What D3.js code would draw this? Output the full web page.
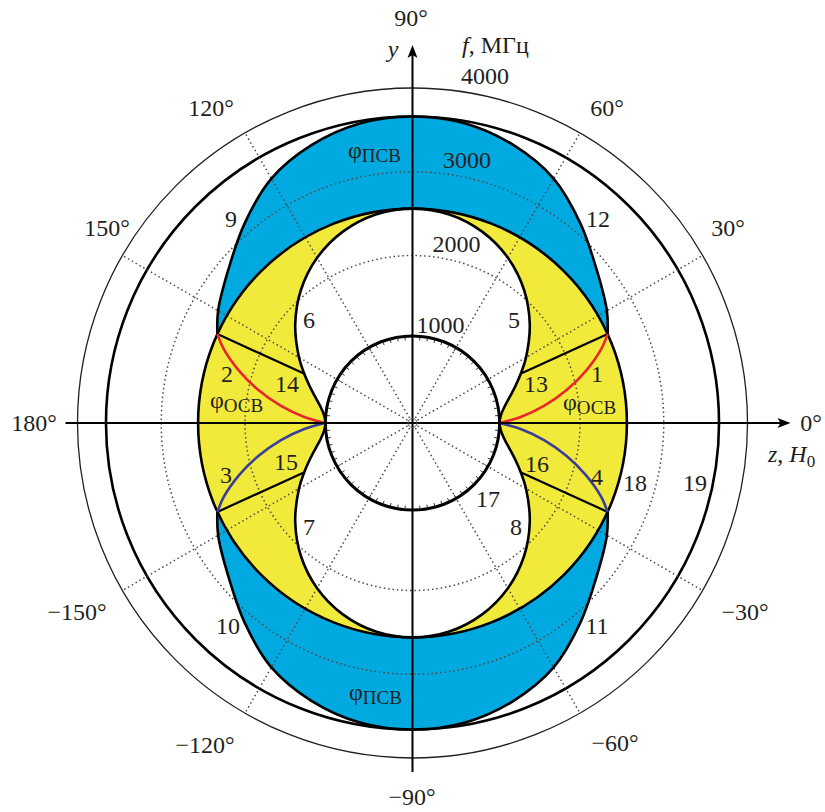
<!DOCTYPE html>
<html>
<head>
<meta charset="utf-8">
<script src="https://cdn.jsdelivr.net/npm/d3@7/dist/d3.min.js"></script>
<style>
  body { margin: 0; background: #fff; }
  svg { display: block; }
</style>
</head>
<body>
<svg id="chart" width="825" height="812"></svg>
<script>
// angles in degrees from the z axis, frequencies in MHz; first quadrant only, the rest is mirrored
const lobeAngles = [0, 5, 10, 15, 20, 25, 30, 40, 50, 60, 70, 80, 90];
const lobeFreq = [1040, 1059, 1115, 1202, 1311, 1434, 1565, 1828, 2073, 2278, 2432, 2529, 2560];

const psvAngles = [24.5, 30, 40, 50, 60, 70, 80, 90];
const psvFreq = [2560, 2680, 2866, 3116, 3370, 3530, 3631, 3660];

const osvAngles = [0, 3.1, 7.5, 12.1, 16.7, 21.4, 24.5];
const osvFreq = [1040, 1286, 1589, 1882, 2159, 2420, 2560];

const cutoffAngle = 24.5;
const cutoffFreq = [1425, 2560];

const innerFreq = 1040;     // curve 17
const circle18Freq = 2560;
const circle19Freq = 3660;
const outerFreq = 4000;
const gridFreq = [2000, 3000];
const gridAngles = [30, 60, 120, 150, 210, 240, 300, 330];
const freqTicks = ["1000", "2000", "3000", "4000"];
const angleLabels = ["90°", "60°", "30°", "0°", "−30°", "−60°", "−90°", "−120°", "−150°", "180°", "150°", "120°"];
const curveNumbers = ["1", "2", "3", "4", "5", "6", "7", "8", "9", "10",
                      "11", "12", "13", "14", "15", "16", "17", "18", "19"];

// layout
const cx = 412.5, cy = 423;
const r = d3.scaleLinear().domain([0, 4000]).range([0, 335]);
const toRad = d => d * Math.PI / 180;
const FONT = "'Liberation Serif', 'Times New Roman', Tinos, 'DejaVu Serif', serif";

const svg = d3.select("#chart");
const plot = svg.append("g").attr("transform", `translate(${cx},${cy})`);
const labels = svg.append("g")
    .attr("font-family", FONT)
    .style("font-family", FONT)
    .attr("font-size", 24)
    .attr("fill", "#231f20");

const radial = curve => d3.lineRadial()
    .angle(d => Math.PI / 2 - toRad(d[0]))
    .radius(d => r(d[1]))
    .curve(curve);
const smooth = radial(d3.curveCatmullRom.alpha(0.5));
const smoothClosed = radial(d3.curveCatmullRomClosed.alpha(0.5));
const straight = radial(d3.curveLinear);

const pairs = (angles, freqs) => angles.map((a, i) => [a, freqs[i]]);
const flipV = pts => pts.map(([a, f]) => [180 - a, f]);   // mirror across the y axis
const flipH = pts => pts.map(([a, f]) => [-a, f]);        // mirror across the z axis

const lobe = pairs(lobeAngles, lobeFreq);
const psv = pairs(psvAngles, psvFreq);
const osv = pairs(osvAngles, osvFreq);

const lobeLoop = [
    ...lobe,
    ...flipV(lobe).reverse().slice(1),
    ...flipH(flipV(lobe)).slice(1),
    ...flipH(lobe).reverse().slice(1, -1)
];
const psvTop = [...psv, ...flipV(psv).reverse().slice(1)];
const psvBottom = flipH(psvTop);

const BLUE = "#00a9df", YELLOW = "#f2ea3b", RED = "#e8262b", NAVY = "#3b3f98";

// outer reference circles
plot.append("circle").attr("r", r(outerFreq))
    .attr("fill", "none").attr("stroke", "#231f20").attr("stroke-width", 1.3);
plot.append("circle").attr("r", r(circle19Freq))
    .attr("fill", "none").attr("stroke", "#000").attr("stroke-width", 2.6);

// fills
[psvTop, psvBottom].forEach(pts => {
    plot.append("path").attr("d", smooth(pts) + "Z").attr("fill", BLUE);
});
plot.append("circle").attr("r", r(circle18Freq)).attr("fill", YELLOW);
plot.append("path").attr("d", smoothClosed(lobeLoop)).attr("fill", "#fff");

// dotted grid
const dotted = sel => sel.attr("fill", "none").attr("stroke", "#4a4a4a")
    .attr("stroke-width", 1.5).attr("stroke-dasharray", "1.5 2.9");
gridFreq.forEach(f => plot.append("circle").attr("r", r(f)).call(dotted));
gridAngles.forEach(a => plot.append("path").attr("d", straight([[a, 70], [a, outerFreq]])).call(dotted));

// black curves
const black = (sel, w) => sel.attr("fill", "none").attr("stroke", "#000").attr("stroke-width", w)
    .attr("stroke-linejoin", "round");
[psvTop, psvBottom].forEach(pts => plot.append("path").attr("d", smooth(pts)).call(black, 2.6));
plot.append("circle").attr("r", r(circle18Freq)).call(black, 2.6);
plot.append("path").attr("d", smoothClosed(lobeLoop)).call(black, 2.6);

// cutoff lines 13-16
[cutoffAngle, 180 - cutoffAngle, -cutoffAngle, cutoffAngle - 180].forEach(a => {
    plot.append("path").attr("d", straight(cutoffFreq.map(f => [a, f]))).call(black, 2.2);
});

// osv boundaries: red above, navy below
[osv, flipV(osv)].forEach(pts => plot.append("path").attr("d", smooth(pts))
    .attr("fill", "none").attr("stroke", RED).attr("stroke-width", 2.6));
[flipH(osv), flipH(flipV(osv))].forEach(pts => plot.append("path").attr("d", smooth(pts))
    .attr("fill", "none").attr("stroke", NAVY).attr("stroke-width", 2.6));

// inner circle 17 with protractor ticks
plot.append("circle").attr("r", r(innerFreq)).attr("fill", "none").call(black, 3);
plot.selectAll(".tick17").data(d3.range(0, 360, 5)).join("path")
    .attr("class", "tick17")
    .attr("d", a => straight([[a, innerFreq - 15], [a, innerFreq - 50]]))
    .attr("stroke", "#333").attr("stroke-width", 1);

// axes with arrows
const axisEnd = { left: 347, right: 378, top: 378, bottom: 349 };
plot.append("line").attr("x1", -axisEnd.left).attr("x2", axisEnd.right - 6)
    .attr("stroke", "#000").attr("stroke-width", 2);
plot.append("line").attr("y1", axisEnd.bottom).attr("y2", -axisEnd.top + 6)
    .attr("stroke", "#000").attr("stroke-width", 2);
const arrow = "M0,0 L-13,-5 L-10,0 L-13,5 Z";
plot.append("path").attr("d", arrow).attr("transform", `translate(${axisEnd.right},0)`).attr("fill", "#000");
plot.append("path").attr("d", arrow).attr("transform", `translate(0,${-axisEnd.top}) rotate(-90)`).attr("fill", "#000");

// centre mark
plot.append("circle").attr("r", 4.5).attr("fill", "none").attr("stroke", "#555").attr("stroke-width", 1);

// frequency labels
const freqLabelDx = [4, 20, 30.5, 48.5];
freqTicks.forEach((t, i) => {
    const rr = i === 0 ? r(innerFreq) + 3 : r(+t) + 4;
    labels.append("text").attr("x", cx + freqLabelDx[i]).attr("y", cy - rr).text(t);
});

// angle labels
const anglePos = [[411, 26], [607, 116], [728, 236], [811, 431], [745, 620], [615, 751],
                  [412, 805], [205, 753], [77, 620], [34, 431], [107, 236], [211, 116]];
angleLabels.forEach((t, i) => {
    labels.append("text").attr("x", anglePos[i][0]).attr("y", anglePos[i][1])
        .attr("text-anchor", "middle").text(t);
});

// curve numbers
const numberPos = [[597, 382], [227, 382], [226, 483], [597, 485], [514, 328], [309, 328],
                   [309, 535], [516, 535], [231, 227], [228, 634], [597, 634], [598, 227],
                   [536, 392], [287, 392], [286, 470], [537, 472], [488, 507], [635, 491], [695, 491]];
curveNumbers.forEach((t, i) => {
    labels.append("text").attr("x", numberPos[i][0]).attr("y", numberPos[i][1])
        .attr("text-anchor", "middle").text(t);
});

// phi labels
function phiLabel(x, y, sub) {
    const t = labels.append("text").attr("x", x).attr("y", y);
    t.append("tspan").text("φ");
    t.append("tspan").attr("font-size", 19).attr("dy", 3.5).text(sub);
}
phiLabel(348, 158, "ПСВ");
phiLabel(349, 700, "ПСВ");
phiLabel(210, 408, "ОСВ");
phiLabel(563, 410, "ОСВ");

// axis titles
labels.append("text").attr("x", 393).attr("y", 57).attr("text-anchor", "middle")
    .attr("font-style", "italic").text("y");
const fTitle = labels.append("text").attr("x", 462).attr("y", 53);
fTitle.append("tspan").attr("font-style", "italic").text("f");
fTitle.append("tspan").text(", МГц");
const zTitle = labels.append("text").attr("x", 768).attr("y", 462);
zTitle.append("tspan").attr("font-style", "italic").text("z");
zTitle.append("tspan").text(", ");
zTitle.append("tspan").attr("font-style", "italic").text("H");
zTitle.append("tspan").attr("font-size", 17).attr("dy", 5).text("0");
</script>
</body>
</html>
